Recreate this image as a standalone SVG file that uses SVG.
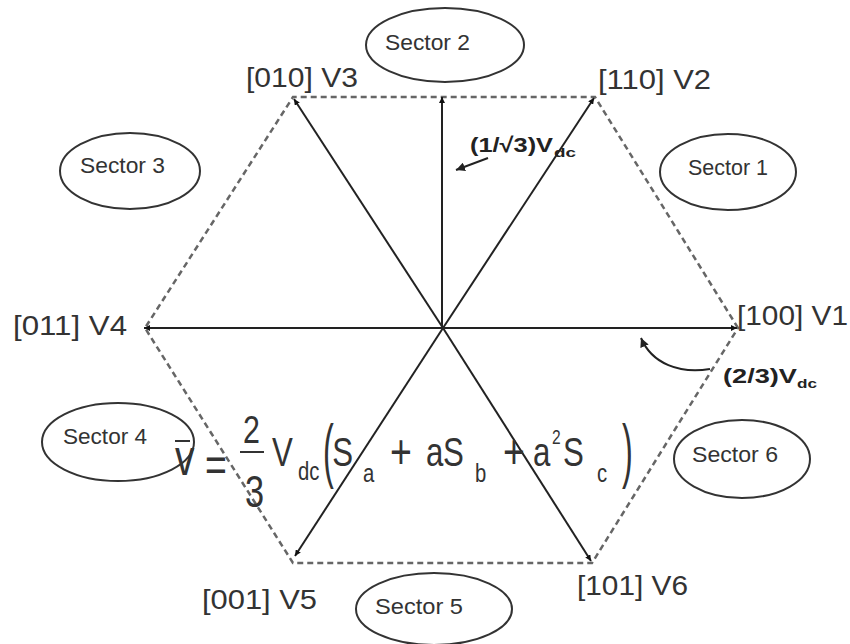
<svg xmlns="http://www.w3.org/2000/svg" width="850" height="644" viewBox="0 0 850 644">
<style>
.lbl{font-family:"Liberation Sans",Arial,sans-serif;font-size:27px;fill:#333}
.sec{font-family:"Liberation Sans",Arial,sans-serif;font-size:22px;fill:#333}
.ell{fill:none;stroke:#333;stroke-width:2}
.spoke{stroke:#222;stroke-width:2;fill:none;marker-end:url(#ah)}
.hex{stroke:#666;stroke-width:2.5;fill:none;stroke-dasharray:6 4}
.bold{font-family:"Liberation Sans",Arial,sans-serif;font-weight:bold;fill:#222}
.f{font-family:"Liberation Sans",Arial,sans-serif;fill:#333}
</style>
<defs>
<marker id="ah" viewBox="0 0 10 10" refX="10" refY="5" markerWidth="3" markerHeight="3" orient="auto" markerUnits="strokeWidth">
<path d="M0,0 L10,5 L0,10 z" fill="#111"/>
</marker>
<marker id="ah2" viewBox="0 0 10 10" refX="10" refY="5" markerWidth="4.5" markerHeight="4.5" orient="auto" markerUnits="strokeWidth">
<path d="M0,0 L10,5 L0,10 z" fill="#222"/>
</marker>
</defs>
<rect width="850" height="644" fill="#fff"/>
<g id="connectors">
<path class="hex" d="M738,328 L595,97 L293,97 L145,328 L293,563 L592,563 Z"/>
<path class="spoke" d="M443,328 L737,328"/>
<path class="spoke" d="M443,328 L594,98"/>
<path class="spoke" d="M443,328 L294,99"/>
<path class="spoke" d="M443,328 L144,328"/>
<path class="spoke" d="M443,328 L295,556"/>
<path class="spoke" d="M443,328 L591,561"/>
<path class="spoke" d="M442,328 L442,97"/>
<path d="M488,158 L456,170" stroke="#222" stroke-width="2" fill="none" marker-end="url(#ah2)"/>
<path d="M710,369 C680,374 652,364 641,338" stroke="#222" stroke-width="2" fill="none" marker-end="url(#ah2)"/>
</g>
<g id="sector1"><ellipse class="ell" cx="728" cy="172" rx="68" ry="38"/><text class="sec" x="688" y="175" textLength="80" lengthAdjust="spacingAndGlyphs">Sector 1</text></g>
<g id="sector2"><ellipse class="ell" cx="445" cy="45" rx="79" ry="37"/><text class="sec" x="385" y="50" textLength="85" lengthAdjust="spacingAndGlyphs">Sector 2</text></g>
<g id="sector3"><ellipse class="ell" cx="130" cy="171" rx="70" ry="38"/><text class="sec" x="80" y="173" textLength="85" lengthAdjust="spacingAndGlyphs">Sector 3</text></g>
<g id="sector4"><ellipse class="ell" cx="118" cy="442" rx="76" ry="39"/><text class="sec" x="63" y="444" textLength="84" lengthAdjust="spacingAndGlyphs">Sector 4</text></g>
<g id="sector5"><ellipse class="ell" cx="434" cy="609" rx="78" ry="36"/><text class="sec" x="375" y="614" textLength="88" lengthAdjust="spacingAndGlyphs">Sector 5</text></g>
<g id="sector6"><ellipse class="ell" cx="742" cy="459" rx="68" ry="39"/><text class="sec" x="692" y="462" textLength="86" lengthAdjust="spacingAndGlyphs">Sector 6</text></g>
<g id="v1"><text class="lbl" x="737" y="325" textLength="111" lengthAdjust="spacingAndGlyphs">[100] V1</text></g>
<g id="v2"><text class="lbl" x="598" y="89" textLength="113" lengthAdjust="spacingAndGlyphs">[110] V2</text></g>
<g id="v3"><text class="lbl" x="246" y="87" textLength="112" lengthAdjust="spacingAndGlyphs">[010] V3</text></g>
<g id="v4"><text class="lbl" x="13" y="335" textLength="114" lengthAdjust="spacingAndGlyphs">[011] V4</text></g>
<g id="v5"><text class="lbl" x="202" y="609" textLength="115" lengthAdjust="spacingAndGlyphs">[001] V5</text></g>
<g id="v6"><text class="lbl" x="577" y="595" textLength="111" lengthAdjust="spacingAndGlyphs">[101] V6</text></g>
<g id="label-short">
<text class="bold" x="470" y="152" font-size="21" textLength="83" lengthAdjust="spacingAndGlyphs">(1/√3)V</text>
<text class="bold" x="554" y="157" font-size="13" textLength="22" lengthAdjust="spacingAndGlyphs">dc</text>
</g>
<g id="label-long">
<text class="bold" x="723" y="383" font-size="21" textLength="74" lengthAdjust="spacingAndGlyphs">(2/3)V</text>
<text class="bold" x="797" y="388" font-size="13" textLength="20" lengthAdjust="spacingAndGlyphs">dc</text>
</g>
<g id="formula">
<line x1="175" y1="441" x2="190" y2="441" stroke="#333" stroke-width="2"/>
<line x1="240" y1="452" x2="264" y2="452" stroke="#333" stroke-width="2"/>
<text class="f" transform="scale(0.78,1)" font-size="40"><tspan x="224.4" y="475" font-size="50">v</tspan><tspan x="262.8" y="481" font-size="48">=</tspan><tspan x="311.5" y="443" font-size="39">2</tspan><tspan x="314.1" y="507" font-size="44">3</tspan><tspan x="348.7" y="466">V</tspan><tspan x="382.1" y="480" font-size="26">dc</tspan><tspan x="426" y="466">S</tspan><tspan x="465.4" y="482" font-size="26">a</tspan><tspan x="500" y="468" font-size="48">+</tspan><tspan x="546.2" y="466">a</tspan><tspan x="568" y="466">S</tspan><tspan x="609" y="482" font-size="26">b</tspan><tspan x="644.9" y="468" font-size="48">+</tspan><tspan x="683.3" y="466">a</tspan><tspan x="707.7" y="444" font-size="20">2</tspan><tspan x="721.8" y="466">S</tspan><tspan x="765.4" y="482" font-size="26">c</tspan></text>
<text class="f" transform="translate(323,474) scale(0.6,1.3)" font-size="54">(</text>
<text class="f" transform="translate(622,474) scale(0.6,1.3)" font-size="54">)</text>
</g>
</svg>
